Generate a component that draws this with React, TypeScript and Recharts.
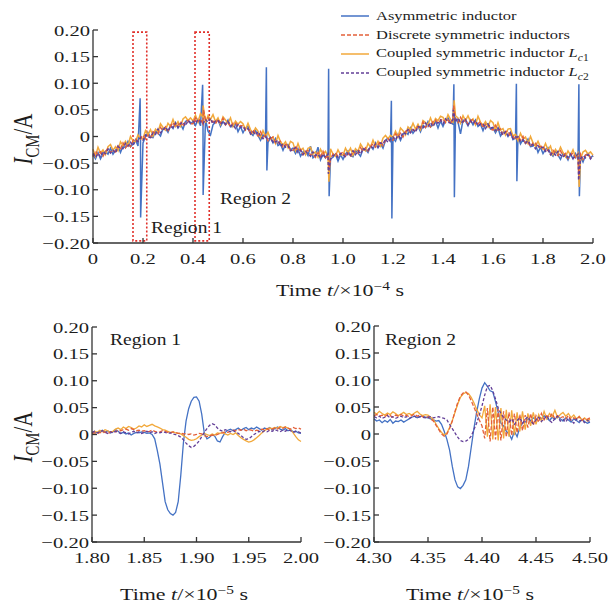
import React from "react";
import { LineChart, Line, XAxis, YAxis, ReferenceArea } from "recharts";

const FONT = '"Liberation Serif", "Times New Roman", serif';
const INK = "#1c1c1c";
const AXIS = "#333";
const BLUE = "#4472C4";
const RED = "#E3603A";
const ORANGE = "#F2A93B";
const PURPLE = "#633F98";
const SX = 1.33; // the figure's lettering is set wide

// overview trace, one sample per 0.01 x 1e-4 s, values in mA
const overviewStart = 0;
const overviewStep = 0.01;

const asymOverview = [
  -34, -42, -30, -42, -32, -28, -33, -22, -33, -26, -18, -30, -18, -21, -9, -19, -14, -6, -18, -4,
  -12, 0, 7, -1, -2, 11, 6, 1, 15, 15, 8, 21, 15, 26, 16, 23, 14, 28, 31, 24,
  28, 21, 32, 20, 29, 32, 10, 3, 22, 27, 32, 19, 28, 22, 31, 18, 19, 24, 9, 19,
  7, 16, 19, 7, 2, 11, 2, -7, 3, -1, -11, -2, -12, -4, -17, -14, -26, -15, -15, -25,
  -22, -32, -23, -37, -29, -28, -36, -18, -40, -36, -20, -44, -34, -40, -30, -42, -39, -33, -46, -34,
  -43, -33, -27, -36, -38, -26, -31, -37, -24, -24, -30, -18, -24, -12, -21, -14, -22, -7, -3, -9,
  -3, -9, 4, -7, 4, 9, 4, 16, 6, 13, 20, 9, 21, 17, 28, 18, 22, 29, 16, 29,
  19, 30, 35, 26, 23, 34, 27, 5, 31, 29, 20, 31, 22, 31, 19, 23, 11, 23, 24, 14,
  16, 7, 16, 1, 8, 9, 0, 8, -6, -3, 1, -14, -6, -13, -5, -19, -18, -14, -30, -20,
  -32, -24, -21, -32, -37, -27, -35, -43, -32, -35, -44, -33, -42, -32, -43, -38, -48, -35, -32, -40,
  -36,
];

const discreteOverview = [
  -38, -28, -34, -29, -37, -28, -23, -30, -26, -29, -18, -23, -12, -21, -14, -19, -8, -4, -9, -3,
  2, -4, 3, -3, 9, 6, 5, 17, 11, 18, 11, 19, 26, 18, 21, 28, 19, 28, 30, 24,
  24, 35, 28, 33, 24, 32, 35, 27, 29, 24, 32, 26, 34, 22, 26, 18, 25, 26, 18, 20,
  21, 12, 15, 5, 13, 6, 1, 9, -1, 2, -8, -4, -1, -12, -12, -9, -21, -15, -16, -25,
  -26, -18, -27, -24, -34, -28, -26, -35, -33, -39, -30, -37, -28, -40, -35, -42, -33, -31, -37, -33,
  -29, -37, -31, -38, -27, -31, -32, -21, -28, -21, -27, -20, -13, -20, -16, -9, -17, -7, -4, -9,
  -7, 5, 0, 6, -1, 9, 14, 8, 13, 10, 20, 16, 27, 17, 23, 18, 28, 31, 25, 30,
  33, 26, 31, 24, 34, 29, 26, 36, 27, 32, 23, 29, 33, 23, 24, 28, 16, 23, 23, 14,
  12, 21, 12, 14, 3, 9, 10, 0, 1, -6, 1, -7, 0, -13, -10, -19, -12, -12, -21, -19,
  -18, -28, -25, -34, -26, -32, -36, -27, -36, -32, -41, -35, -31, -40, -38, -33, -43, -35, -33, -40,
  -37,
];

const lc1Overview = [
  -24, -37, -20, -31, -25, -34, -19, -15, -26, -19, -27, -10, -17, -9, -17, 0, -8, -10, 3, -4,
  -4, 11, 3, 13, 1, 14, 9, 24, 17, 12, 25, 19, 32, 19, 28, 19, 33, 37, 30, 35,
  29, 40, 27, 43, 36, 26, 39, 32, 41, 28, 35, 23, 37, 31, 25, 35, 19, 29, 23, 28,
  24, 13, 25, 13, 6, 16, 10, -2, 11, 0, 8, -5, -1, -13, 2, -10, -16, -10, -21, -9,
  -12, -27, -13, -26, -22, -34, -22, -20, -33, -29, -39, -24, -33, -28, -38, -23, -33, -37, -25, -34,
  -35, -22, -31, -22, -35, -23, -28, -14, -22, -27, -13, -20, -7, -19, -9, -18, -3, 2, -4, 2,
  -2, 10, -1, 16, 11, 3, 18, 13, 25, 14, 23, 13, 30, 26, 22, 35, 22, 34, 30, 38,
  36, 27, 41, 32, 27, 39, 35, 25, 39, 30, 39, 28, 33, 22, 38, 27, 21, 28, 18, 30,
  26, 12, 26, 12, 15, 3, 14, 15, 1, 4, -8, 6, -5, -1, -13, 0, -12, -18, -9, -20,
  -24, -13, -25, -18, -34, -24, -32, -20, -30, -38, -27, -35, -25, -39, -31, -42, -29, -26, -33, -29,
  -35,
];

const lc2Overview = [
  -32, -39, -32, -38, -28, -32, -24, -31, -26, -31, -19, -22, -23, -13, -18, -11, -17, -8, -9, -2,
  -7, 3, -1, -2, 7, 4, 14, 7, 12, 18, 10, 19, 17, 25, 17, 24, 27, 20, 30, 26,
  29, 25, 32, 28, 24, 32, 27, 34, 24, 29, 30, 23, 28, 23, 28, 20, 22, 15, 22, 17,
  19, 12, 15, 5, 9, 3, 9, 1, -4, 0, -6, -2, -11, -10, -7, -18, -14, -20, -17, -27,
  -25, -21, -30, -26, -34, -28, -32, -37, -29, -36, -33, -41, -33, -39, -33, -43, -36, -34, -39, -32,
  -34, -39, -31, -35, -27, -34, -27, -33, -23, -25, -26, -19, -21, -14, -20, -12, -14, -5, -11, -5,
  -1, -6, 2, -3, 8, 5, 13, 7, 13, 8, 19, 17, 16, 25, 19, 26, 19, 27, 25, 31,
  24, 33, 27, 25, 32, 27, 35, 26, 28, 32, 22, 29, 24, 30, 20, 24, 24, 15, 23, 16,
  17, 11, 16, 9, 3, 9, 2, 7, -4, -1, -1, -10, -6, -12, -8, -17, -15, -23, -17, -22,
  -20, -28, -25, -34, -30, -35, -28, -35, -39, -34, -39, -33, -41, -38, -33, -42, -36, -40, -34, -42,
  -36,
];

// switching spikes [t, mA]
const asymSpikes = [
  [0.1885, 72], [0.1905, -152],
  [0.4385, 97], [0.4405, -110],
  [0.6935, 130], [0.6955, -64],
  [0.9425, 127], [0.9445, -112],
  [1.1935, 67], [1.1955, -154],
  [1.4435, 98], [1.4455, -114],
  [1.6935, 99], [1.6955, -84],
  [1.9435, 98], [1.9455, -112],
];
const discreteSpikes = [[0.4415, 50], [0.9445, -60], [1.4425, 58], [1.9435, -72]];
const lc1Spikes = [[0.4405, 58], [0.9435, -85], [1.4445, 68], [1.9445, -95]];
const lc2Spikes = [[0.9415, -70], [1.4415, 50], [1.9425, -82]];

// zoomed regions, one sample per 0.0025 x 1e-5 s, values in mA
const zoomStep = 0.0025;
const region1Start = 1.8;
const region2Start = 4.3;

const asymRegion1 = [
  2, 5, 3, 6, 8, 4, 7, 3, 5, 9, 6, 2, 4, 1, 3, -1, 2, 4, 3, 5, 4, 2, 3, 0,
  -8, -30, -55, -90, -125, -140, -147, -150, -145, -125, -75, -15, 25, 48, 62, 69, 70, 62, 38, 2,
  -8, -5, 0, -3, -12, -14, -4, 4, 8,
  10, 7, 9, 12, 8, 11, 13, 9, 12, 10, 14, 11, 8, 12, 10, 13, 9, 11, 14, 10, 8, 11, 7, 9, 5, 6, 3, 2,
];
const discreteRegion1 = [
  2, 3, 1, 4, 3, 5, 2, 4, 6, 5, 8, 7, 9, 10, 8, 11, 9, 7, 8, 6,
  7, 5, 6, 8, 6, 4, 5, 7, 6, 4, 3, 5, 4, 2, 3, 1, 2, 0, 1, -1,
  0, 2, 1, -2, -4, -3, -1, -2, 0, 2, 3, 5, 4, 6, 8, 7, 9, 8, 10, 7,
  9, 8, 6, 8, 7, 10, 9, 11, 8, 10, 12, 10, 13, 11, 14, 12, 10, 13, 11, 12,
  10,
];
const lc1Region1 = [
  3, 6, 4, 8, 5, 9, 7, 4, 6, 10, 12, 9, 14, 11, 15, 13, 10, 12, 16, 14,
  18, 15, 17, 19, 16, 14, 12, 9, 8, 6, 4, 5, 3, 2, 1, -2, -5, -9, -11, -10,
  -8, -4, -1, 2, 0, -2, 1, -1, 3, 2, 4, 1, -1, 2, 0, 3, -2, -6, -9, -12,
  -14, -13, -10, -6, -2, 3, 7, 10, 12, 11, 13, 12, 15, 13, 14, 12, 9, 3, -4, -10,
  -13,
];
const lc2Region1 = [
  4, 6, 3, 5, 7, 4, 2, 5, 3, 6, 4, 2, 5, 3, 1, 4, 6, 3, 5, 2,
  4, 6, 3, 5, 2, 4, 3, 5, 4, 2, 3, 1, 0, -2, -5, -10, -16, -21, -24, -22,
  -18, -12, -4, 4, 11, 17, 20, 18, 12, 8, 6, 9, 7, 5, 8, 4, 2, -2, -6, -9,
  -8, -4, 0, 3, 6, 4, 7, 5, 8, 6, 9, 7, 5, 8, 6, 9, 7, 4, 6, 5,
  3,
];

const asymRegion2 = [
  28, 24, 26, 21, 25, 22, 27, 20, 24, 23, 26, 22, 25, 28, 31, 33, 30, 32, 34, 31,
  30, 28, 26, 24, 25, 18, 5, -10, -30, -60, -85, -98, -101, -95, -85, -60, -25, 10, 40, 65,
  85, 95, 88, 80, 78, 60, 40, 20, 15, 5, 0, -10, 5, -5, 12, 20, 22, 28, 24, 30,
  26, 32, 28, 34, 29, 25, 31, 27, 33, 28, 24, 30, 26, 22, 28, 25, 21, 27, 23, 20,
  22,
];
const discreteRegion2 = [
  34, 36, 33, 35, 32, 36, 34, 31, 35, 33, 36, 33, 35, 32, 34, 37, 33, 35, 32, 30,
  32, 28, 24, 16, 8, 0, -4, 0, 10, 24, 42, 58, 70, 76, 78, 72, 62, 50, 38, 26,
  15, -8, 48, -14, 50, -10, 46, -12, 42, -6, 40, -3, 38, 2, 36, 6, 35, 12, 38, 16,
  34, 22, 38, 26, 34, 30, 38, 28, 34, 30, 32, 28, 34, 26, 30, 27, 32, 25, 29, 27,
  30,
];
const lc1Region2 = [
  40, 37, 42, 38, 35, 39, 36, 41, 38, 34, 37, 40, 36, 38, 35, 39, 42, 37, 34, 36,
  35, 31, 27, 18, 10, 3, -2, 2, 12, 25, 40, 55, 68, 74, 77, 75, 68, 58, 46, 36,
  30, 52, -5, 55, -10, 50, -12, 48, -8, 45, -5, 44, -2, 40, 5, 42, 8, 38, 15, 40,
  18, 36, 24, 42, 28, 38, 32, 44, 30, 36, 40, 33, 38, 30, 35, 28, 33, 26, 30, 24,
  28,
];
const lc2Region2 = [
  32, 30, 33, 29, 31, 34, 30, 32, 29, 31, 33, 30, 32, 29, 31, 33, 30, 32, 31, 30,
  31, 32, 30, 31, 32, 30, 29, 26, 18, 10, 2, -6, -12, -14, -13, -10, -4, 8, 20, 35,
  52, 72, 88, 90, 80, 65, 48, 38, 30, 26, 22, 28, 18, 25, 30, 20, 27, 32, 24, 19,
  26, 31, 23, 28, 34, 25, 21, 29, 33, 24, 27, 22, 30, 25, 20, 28, 24, 26, 21, 25,
  23,
];

const currentTicks = [-0.2, -0.15, -0.1, -0.05, 0, 0.05, 0.1, 0.15, 0.2];
const overviewTicks = [0, 0.2, 0.4, 0.6, 0.8, 1.0, 1.2, 1.4, 1.6, 1.8, 2.0];
const region1Ticks = [1.8, 1.85, 1.9, 1.95, 2.0];
const region2Ticks = [4.3, 4.35, 4.4, 4.45, 4.5];

function toPoints(values: number[], start: number, step: number, extra: number[][] = []) {
  const pts = values.map((v, i) => ({ t: Math.round((start + i * step) * 10000) / 10000, v: v / 1000 }));
  extra.forEach(([t, v]) => pts.push({ t, v: v / 1000 }));
  return pts.sort((a, b) => a.t - b.t);
}

const fmtCurrent = (v: number) => (v === 0 ? "0" : v < 0 ? "\u2212" + Math.abs(v).toFixed(2) : v.toFixed(2));

function StretchText({ x, y, anchor, size, children }: any) {
  return (
    <text
      transform={`translate(${x} ${y}) scale(${SX} 1)`}
      textAnchor={anchor}
      style={{ fontFamily: FONT, fontSize: size, fill: INK }}
    >
      {children}
    </text>
  );
}

function YTick({ x, y, payload }: any) {
  return (
    <g>
      <line x1={x} x2={x + 5} y1={y} y2={y} stroke={AXIS} strokeWidth={1.3} />
      <StretchText x={x - 3} y={y + 5.5} anchor="end" size={15.5}>
        {fmtCurrent(payload.value)}
      </StretchText>
    </g>
  );
}

const makeXTick = (fmt: (v: number) => string) =>
  function XTick({ x, y, payload }: any) {
    return (
      <g>
        <line x1={x} x2={x} y1={y} y2={y - 5} stroke={AXIS} strokeWidth={1.3} />
        <StretchText x={x} y={y + 21} anchor="middle" size={15.5}>
          {fmt(payload.value)}
        </StretchText>
      </g>
    );
  };

const OverviewTick = makeXTick((v) => (v === 0 ? "0" : v.toFixed(1)));
const ZoomTick = makeXTick((v) => v.toFixed(2));

const axisProps = {
  tickLine: false,
  tickSize: 0,
  tickMargin: 0,
  interval: 0 as const,
  axisLine: { stroke: AXIS, strokeWidth: 1.3 },
};

interface TraceSet {
  asym: { t: number; v: number }[];
  discrete: { t: number; v: number }[];
  lc1: { t: number; v: number }[];
  lc2: { t: number; v: number }[];
}

function traces(set: TraceSet, width: number) {
  return [
    <Line key="a" data={set.asym} dataKey="v" type="linear" dot={false} stroke={BLUE} strokeWidth={width} isAnimationActive={false} />,
    <Line key="c1" data={set.lc1} dataKey="v" type="linear" dot={false} stroke={ORANGE} strokeWidth={width} isAnimationActive={false} />,
    <Line key="d" data={set.discrete} dataKey="v" type="linear" dot={false} stroke={RED} strokeWidth={width} strokeDasharray="4 2" isAnimationActive={false} />,
    <Line key="c2" data={set.lc2} dataKey="v" type="linear" dot={false} stroke={PURPLE} strokeWidth={width} strokeDasharray="3 2" isAnimationActive={false} />,
  ];
}

const overview: TraceSet = {
  asym: toPoints(asymOverview, overviewStart, overviewStep, asymSpikes),
  discrete: toPoints(discreteOverview, overviewStart, overviewStep, discreteSpikes),
  lc1: toPoints(lc1Overview, overviewStart, overviewStep, lc1Spikes),
  lc2: toPoints(lc2Overview, overviewStart, overviewStep, lc2Spikes),
};
const region1: TraceSet = {
  asym: toPoints(asymRegion1, region1Start, zoomStep),
  discrete: toPoints(discreteRegion1, region1Start, zoomStep),
  lc1: toPoints(lc1Region1, region1Start, zoomStep),
  lc2: toPoints(lc2Region1, region1Start, zoomStep),
};
const region2: TraceSet = {
  asym: toPoints(asymRegion2, region2Start, zoomStep),
  discrete: toPoints(discreteRegion2, region2Start, zoomStep),
  lc1: toPoints(lc1Region2, region2Start, zoomStep),
  lc2: toPoints(lc2Region2, region2Start, zoomStep),
};

const legendItems = [
  { label: <>Asymmetric inductor</>, color: BLUE, dash: undefined },
  { label: <>Discrete symmetric inductors</>, color: RED, dash: "4 2" },
  { label: <>Coupled symmetric inductor <i>L</i><sub style={{ fontSize: "0.7em" }}><i>c</i>1</sub></>, color: ORANGE, dash: undefined },
  { label: <>Coupled symmetric inductor <i>L</i><sub style={{ fontSize: "0.7em" }}><i>c</i>2</sub></>, color: PURPLE, dash: "3 2" },
];

const textBase: React.CSSProperties = {
  position: "absolute",
  fontFamily: FONT,
  color: INK,
  whiteSpace: "nowrap",
  lineHeight: 1,
};

function TimeTitle({ cx, cy, exp }: { cx: number; cy: number; exp: string }) {
  return (
    <div style={{ ...textBase, left: cx, top: cy, fontSize: 16.5, transform: `translate(-50%, -50%) scaleX(${SX})` }}>
      Time <i>t</i>/×10<sup style={{ fontSize: "0.7em" }}>{"\u2212" + exp}</sup> s
    </div>
  );
}

function CurrentTitle({ cx, cy }: { cx: number; cy: number }) {
  return (
    <div style={{ ...textBase, left: cx, top: cy, fontSize: 21, transform: `translate(-50%, -50%) scale(${SX}, 1) rotate(-90deg)` }}>
      <i>I</i>
      <sub style={{ fontSize: "0.7em" }}>CM</sub>/A
    </div>
  );
}

function RegionLabel({ x, cy, text }: { x: number; cy: number; text: string }) {
  return (
    <div style={{ ...textBase, left: x, top: cy, fontSize: 16, transform: "translateY(-50%) scaleX(1.22)", transformOrigin: "left center" }}>{text}</div>
  );
}

export default function App() {
  return (
    <div style={{ position: "absolute", left: 0, top: 0, width: 615, height: 608, background: "#fff", overflow: "hidden" }}>
      <div style={{ position: "absolute", left: 0, top: 0 }}>
        <LineChart width={615} height={300} margin={{ top: 30, right: 22, bottom: 27, left: 33 }}>
          <XAxis dataKey="t" type="number" domain={[0, 2]} ticks={overviewTicks} height={30} tick={<OverviewTick />} {...axisProps} />
          <YAxis type="number" domain={[-0.2, 0.2]} ticks={currentTicks} width={60} tick={<YTick />} {...axisProps} />
          {traces(overview, 1.5)}
          <ReferenceArea x1={0.16} x2={0.215} y1={-0.196} y2={0.196} fill="none" stroke="#E0302A" strokeWidth={1.6} strokeDasharray="2 2" />
          <ReferenceArea x1={0.408} x2={0.465} y1={-0.196} y2={0.196} fill="none" stroke="#E0302A" strokeWidth={1.6} strokeDasharray="2 2" />
        </LineChart>
      </div>

      <div style={{ position: "absolute", left: 0, top: 300 }}>
        <LineChart width={320} height={300} margin={{ top: 27, right: 19, bottom: 28, left: 32 }}>
          <XAxis dataKey="t" type="number" domain={[1.8, 2.0]} ticks={region1Ticks} height={30} tick={<ZoomTick />} {...axisProps} />
          <YAxis type="number" domain={[-0.2, 0.2]} ticks={currentTicks} width={60} tick={<YTick />} {...axisProps} />
          {traces(region1, 1.3)}
        </LineChart>
      </div>

      <div style={{ position: "absolute", left: 320, top: 300 }}>
        <LineChart width={295} height={300} margin={{ top: 26, right: 25, bottom: 28, left: 4 }}>
          <XAxis dataKey="t" type="number" domain={[4.3, 4.5]} ticks={region2Ticks} height={30} tick={<ZoomTick />} {...axisProps} />
          <YAxis type="number" domain={[-0.2, 0.2]} ticks={currentTicks} width={50} tick={<YTick />} {...axisProps} />
          {traces(region2, 1.3)}
        </LineChart>
      </div>

      <div style={{ position: "absolute", left: 341, top: 6 }}>
        {legendItems.map((item, i) => (
          <div key={i} style={{ display: "flex", alignItems: "center", height: 19 }}>
            <svg width={30} height={4} style={{ marginRight: 5 }}>
              <line x1={0} x2={28} y1={2} y2={2} stroke={item.color} strokeWidth={1.5} strokeDasharray={item.dash} />
            </svg>
            <span
              style={{
                fontFamily: FONT,
                fontSize: 13.5,
                color: INK,
                whiteSpace: "nowrap",
                display: "inline-block",
                transform: "scaleX(1.22)",
                transformOrigin: "left center",
              }}
            >
              {item.label}
            </span>
          </div>
        ))}
      </div>

      <CurrentTitle cx={26} cy={139} />
      <CurrentTitle cx={26} cy={437} />
      <TimeTitle cx={340} cy={290} exp="4" />
      <TimeTitle cx={184} cy={594} exp="5" />
      <TimeTitle cx={470} cy={594} exp="5" />

      <RegionLabel x={151} cy={228} text="Region 1" />
      <RegionLabel x={220} cy={199} text="Region 2" />
      <RegionLabel x={110} cy={340} text="Region 1" />
      <RegionLabel x={385} cy={340} text="Region 2" />
    </div>
  );
}
